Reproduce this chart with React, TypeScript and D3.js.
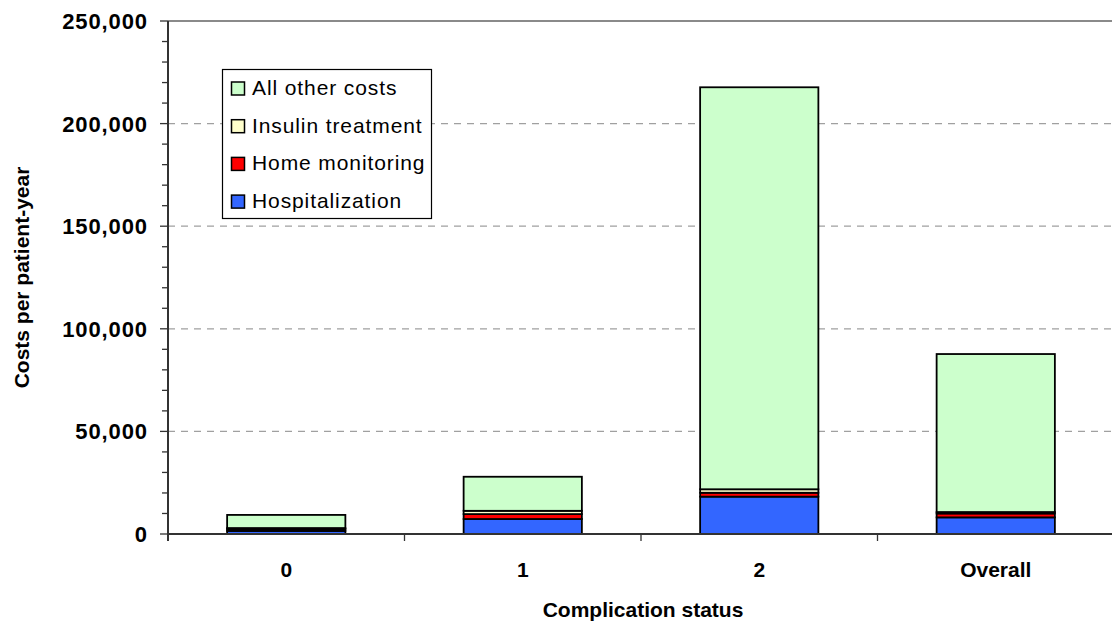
import * as d3 from "d3";

// categories and stacked cost components (per patient-year)
const categories = ["0", "1", "2", "Overall"];
const hospitalization = [1500, 7300, 18200, 8100];
const homeMonitoring = [900, 2400, 1900, 1900];
const insulinTreatment = [500, 1600, 1700, 700];
const allOtherCosts = [6400, 16600, 195900, 77000];

const seriesNames = ["Hospitalization", "Home monitoring", "Insulin treatment", "All other costs"];
const seriesColors = ["#3366FF", "#FF0000", "#FFFFCC", "#CCFFCC"];
const yTicks = [0, 50000, 100000, 150000, 200000, 250000];

const W = 1112;
const H = 627;
const margin = { left: 168, top: 21, bottom: 93 };
const plotRight = 1114;
const FONT = "'Liberation Sans', Arial, sans-serif";

export default function App() {
  const rows = categories.map((c, i) => ({
    cat: c,
    [seriesNames[0]]: hospitalization[i],
    [seriesNames[1]]: homeMonitoring[i],
    [seriesNames[2]]: insulinTreatment[i],
    [seriesNames[3]]: allOtherCosts[i],
  }));
  const stacked = d3.stack<any>().keys(seriesNames)(rows);

  const x = d3.scaleBand().domain(categories).range([margin.left, plotRight]).paddingInner(0.5).paddingOuter(0.25);
  const xb = d3.scaleBand().domain(categories).range([margin.left, plotRight]);
  const y = d3.scaleLinear().domain([0, 250000]).range([H - margin.bottom, margin.top]);
  const minor = d3.range(0, 250001, 10000);
  const fmt = d3.format(",");
  const y0 = y(0);

  const legendItems = seriesNames.map((n, i) => ({ n, c: seriesColors[i] })).reverse();

  return (
    <svg width={W} height={H} style={{ position: "fixed", left: 0, top: 0, background: "#fff" }} fontFamily={FONT}>
      {/* grid */}
      {yTicks.filter((t) => t > 0 && t < 250000).map((t) => (
        <line key={t} x1={margin.left} x2={plotRight} y1={y(t)} y2={y(t)} stroke="#a0a0a0" strokeWidth={1.3} strokeDasharray="7,6" />
      ))}
      <line x1={margin.left} x2={plotRight} y1={y(250000)} y2={y(250000)} stroke="#8a8a8a" strokeWidth={2} />

      {/* bars */}
      {stacked.map((s, si) =>
        s.map((d: any, i: number) => (
          <rect
            key={si + "-" + i}
            x={x(categories[i])}
            width={x.bandwidth()}
            y={y(d[1])}
            height={y(d[0]) - y(d[1])}
            fill={seriesColors[si]}
            stroke="#000"
            strokeWidth={1.8}
          />
        ))
      )}

      {/* y axis */}
      <line x1={margin.left} x2={margin.left} y1={y(250000)} y2={y0 + 7} stroke="#333" strokeWidth={2} />
      {minor.map((t) => (
        <line key={t} x1={margin.left - (t % 50000 === 0 ? 8 : 6)} x2={margin.left} y1={y(t)} y2={y(t)} stroke="#333" strokeWidth={1.3} />
      ))}
      {yTicks.map((t) => (
        <text key={t} x={148} y={y(t)} dy="0.36em" textAnchor="end" fontSize={22} letterSpacing={0.9} fontWeight="bold" fill="#000">
          {fmt(t)}
        </text>
      ))}

      {/* x axis */}
      <line x1={margin.left} x2={plotRight} y1={y0} y2={y0} stroke="#333" strokeWidth={2} />
      {categories.map((c) => (
        <line key={c} x1={xb(c)! + xb.bandwidth()} x2={xb(c)! + xb.bandwidth()} y1={y0} y2={y0 + 7} stroke="#333" strokeWidth={1.3} />
      ))}
      {categories.map((c) => (
        <text key={c} x={x(c)! + x.bandwidth() / 2} y={577} textAnchor="middle" fontSize={21} fontWeight="bold">
          {c}
        </text>
      ))}
      <text x={(margin.left + plotRight) / 2 + 2} y={617} textAnchor="middle" fontSize={21} fontWeight="bold">
        Complication status
      </text>
      <text transform={`translate(29, ${(y0 + y(250000)) / 2}) rotate(-90)`} textAnchor="middle" fontSize={21} fontWeight="bold">
        Costs per patient-year
      </text>

      {/* legend */}
      <rect x={222.5} y={69.5} width={209} height={149} fill="#fff" stroke="#000" strokeWidth={1.2} />
      {legendItems.map((it, i) => (
        <g key={it.n} transform={`translate(231, ${95 + i * 37.7})`}>
          <rect x={0.5} y={-13} width={13} height={13} fill={it.c} stroke="#000" strokeWidth={1.5} />
          <text x={21} y={0} fontSize={21} letterSpacing={0.9} fill="#000">
            {it.n}
          </text>
        </g>
      ))}
    </svg>
  );
}
